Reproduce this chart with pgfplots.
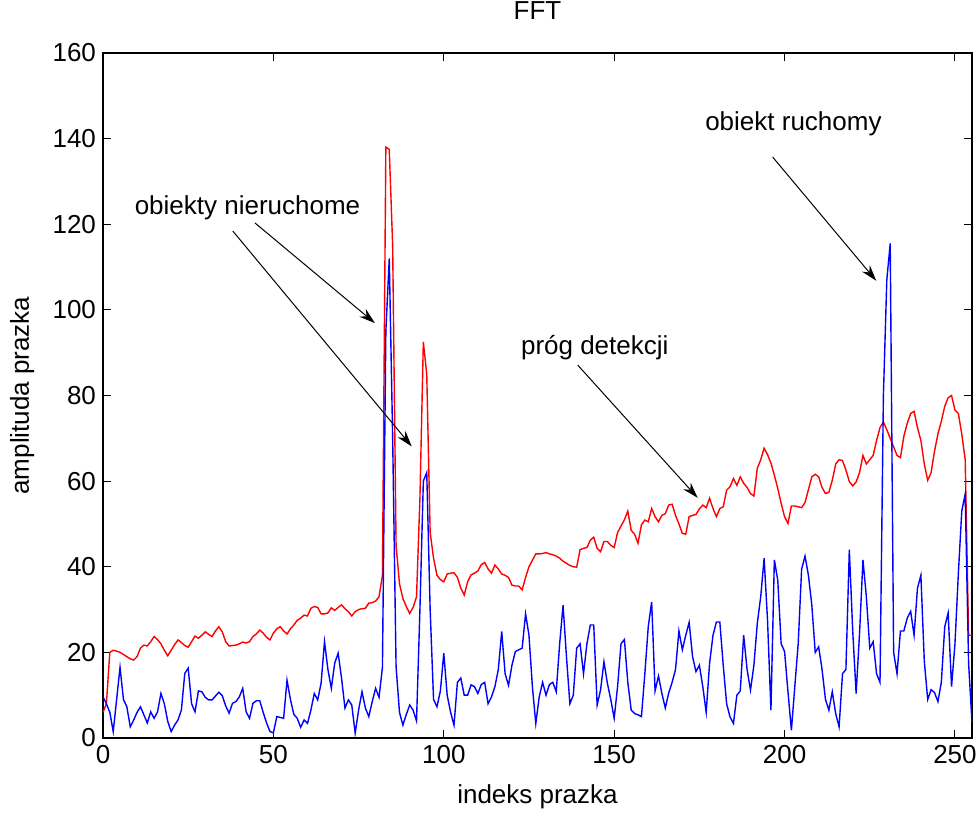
\documentclass[border=0pt]{standalone}
\usepackage{fontspec}
\setmainfont{Liberation Sans}
\usepackage{pgfplots}
\pgfplotsset{compat=1.18}
\usepackage{pgfplotstable}
\usetikzlibrary{arrows.meta}

\newcommand{\lbl}{\fontsize{13}{15}\selectfont}

% index, detection threshold (red), spectrum amplitude (blue)
\pgfplotstableread{
i red blue
0 6 9.6
1 8 8
2 20 6
3 20.5 1.5
4 20.3 9
5 20 16.5
6 19.5 9
7 19 7.3
8 18.5 2.6
9 18.2 4.2
10 19 6
11 21 7.3
12 21.7 5.4
13 21.5 3.5
14 22.5 6.1
15 23.7 4.6
16 23 6.1
17 22 10.4
18 20.5 8
19 19.2 3.9
20 20.5 1.5
21 21.8 3
22 22.9 4.2
23 22.3 6.5
24 21.6 15.1
25 21.2 16.3
26 22.5 8
27 23.8 6.1
28 23.3 11
29 24 10.8
30 24.8 9.5
31 24.2 8.9
32 23.7 8.9
33 25 9.8
34 26 10.7
35 24.8 9.9
36 22.5 7.5
37 21.5 5.8
38 21.6 8.1
39 21.7 8.5
40 22 9.6
41 22.4 11.6
42 22.2 6.1
43 22.5 4.6
44 23.7 8.1
45 24.3 8.7
46 25.2 8.7
47 24.5 6
48 23.5 3.5
49 22.9 1.5
50 24.5 1.2
51 25.5 5
52 26 4.8
53 25 4.6
54 24.3 13.5
55 25.5 9
56 26.4 5.5
57 27.5 4.6
58 28 2.5
59 28.7 4.2
60 28.5 3.4
61 30.3 6.5
62 30.7 10.4
63 30.5 8.9
64 29 12.8
65 29 22.5
66 29.2 16
67 30.4 11.6
68 29.8 17.5
69 30.5 19.8
70 31.1 14
71 30.2 7
72 29.5 8.9
73 28.5 7.7
74 29.5 1.1
75 30 6.5
76 30.2 10.8
77 30.3 7
78 31.5 5
79 31.6 8.5
80 32 11.6
81 33 9.5
82 38 16.5
83 138 95
84 137.5 112
85 115 70
86 45 16.7
87 36 6
88 32.6 3
89 30.7 5.5
90 29.1 7.7
91 30.5 6.5
92 33 4
93 56 30
94 92.5 60
95 85 62
96 48 30
97 42 9
98 38 7.3
99 37 11
100 36.5 19.8
101 38.3 10
102 38.5 6
103 38.6 3
104 37.5 13
105 35 14
106 33.4 10
107 36.5 10
108 38.1 12.4
109 38.5 12
110 39 10.4
111 40.5 12.5
112 41 13
113 39.5 8
114 38.5 9.6
115 40.4 12
116 39.5 16
117 38.3 24.9
118 38 15
119 37.5 12.3
120 35.7 17
121 35.5 20.2
122 35.5 20.6
123 34.6 21
124 37.5 29
125 40 24
126 41.5 12
127 43 3.4
128 43 9.6
129 43.1 13
130 43.3 10
131 43 12.5
132 42.8 13
133 42.5 10.8
134 42 22
135 41.3 31
136 40.8 19
137 40.3 8
138 40 10
139 39.9 21
140 44 22
141 44.3 15
142 44.5 22
143 46.2 26.4
144 46.9 26.4
145 44.3 7.7
146 43.5 11.2
147 45.9 17.8
148 45.9 12.8
149 45 9
150 44.5 4.6
151 48 12
152 49.5 22
153 51 23
154 53 13
155 48.5 6.5
156 47.6 5.7
157 45.5 5.4
158 49.8 5
159 50.9 15
160 50.5 26
161 53.6 31.8
162 51.7 11
163 50.5 14.5
164 52 10.4
165 52.4 7
166 54.4 10.5
167 54.6 13
168 52 16
169 50 25
170 47.8 20.6
171 47.6 24
172 51.7 27
173 52 19
174 52.2 15.5
175 53.5 17
176 54.4 12
177 53.8 6
178 56 17.5
179 53.6 24
180 51.7 27.1
181 53.6 27.1
182 54 17
183 57.9 8
184 58.7 4.9
185 60.6 3.4
186 59 10
187 61 11
188 59.5 24
189 58.5 16
190 57.1 11.2
191 56.5 17
192 63 26.8
193 65 33
194 67.7 42
195 66.2 27.5
196 64.2 6.5
197 61.4 41.6
198 58.3 36.9
199 54.8 22
200 51.7 20.2
201 50.1 10.8
202 54.2 1.8
203 54.2 12
204 54 22
205 53.8 39.4
206 55 42.5
207 58 38
208 61 31
209 61.6 20
210 61 21.3
211 58.5 16
212 57.1 9
213 57.4 6.5
214 60.2 10.8
215 64 5.7
216 65 2.6
217 64.8 15
218 62.6 16
219 59.9 44
220 58.9 25
221 59.8 10.4
222 62 24.4
223 66 41.6
224 64 33
225 65 21
226 66 22.5
227 69.5 15
228 72.5 13
229 73.8 80
230 72 107
231 70 115.5
232 68 20
233 66 15
234 65.5 25
235 70.5 25
236 73.5 28
237 75.8 29.6
238 76.3 24
239 72.5 35
240 69.5 38
241 64 18
242 60.2 9
243 62 11.3
244 67 10.6
245 71 8.5
246 74 13
247 77.5 26
248 79.5 29.2
249 80 12
250 76.6 22
251 75.8 38.5
252 71 53
253 65 57
254 24 17.5
255 24 3.5
}\fftdata

\begin{document}
\begin{tikzpicture}
\begin{axis}[
    name=ax,
    scale only axis,
    width=434.5pt, height=342.5pt,
    xmin=0, xmax=255, ymin=0, ymax=160,
    xtick={0,50,...,250}, ytick={0,20,...,160},
    tick align=inside, xtick pos=both, ytick pos=both,
    major tick length=4pt,
    axis line style={line width=0.6pt},
    every tick/.style={black, line width=0.5pt},
    tick label style={font=\lbl},
    /pgf/number format/assume math mode=true,
    title={FFT},
    title style={font=\lbl, at={(axis description cs:0.5,1.045)}, anchor=center},
    xlabel={indeks prazka},
    xlabel style={font=\lbl, at={(axis description cs:0.5,-0.086)}, anchor=center},
    ylabel={amplituda prazka},
    ylabel style={font=\lbl, at={(axis description cs:-0.093,0.5)}, anchor=center},
]
\addplot[red, line width=0.7pt] table[x=i, y=red] {\fftdata};
\addplot[blue, line width=0.7pt] table[x=i, y=blue] {\fftdata};

\node[font=\lbl] at (axis cs:42.4,123.8) {obiekty nieruchome};
\draw[line width=0.5pt, -{Stealth[length=8pt,width=5pt]}] (axis cs:44.6,120.3) -- (axis cs:79.8,96.9);
\draw[line width=0.5pt, -{Stealth[length=8pt,width=5pt]}] (axis cs:38.1,118.4) -- (axis cs:90.6,68.1);

\node[font=\lbl] at (axis cs:144.3,91.1) {próg detekcji};
\draw[line width=0.5pt, -{Stealth[length=8pt,width=5pt]}] (axis cs:139.3,87.1) -- (axis cs:174.5,56.1);

\node[font=\lbl] at (axis cs:202.6,143.4) {obiekt ruchomy};
\draw[line width=0.5pt, -{Stealth[length=8pt,width=5pt]}] (axis cs:196.5,135.7) -- (axis cs:226.9,106.8);
\end{axis}
\pgfresetboundingbox
\path[use as bounding box] ([shift={(-51.5pt,-38pt)}]ax.south west) rectangle ([shift={(4pt,26.5pt)}]ax.north east);
\end{tikzpicture}
\end{document}
